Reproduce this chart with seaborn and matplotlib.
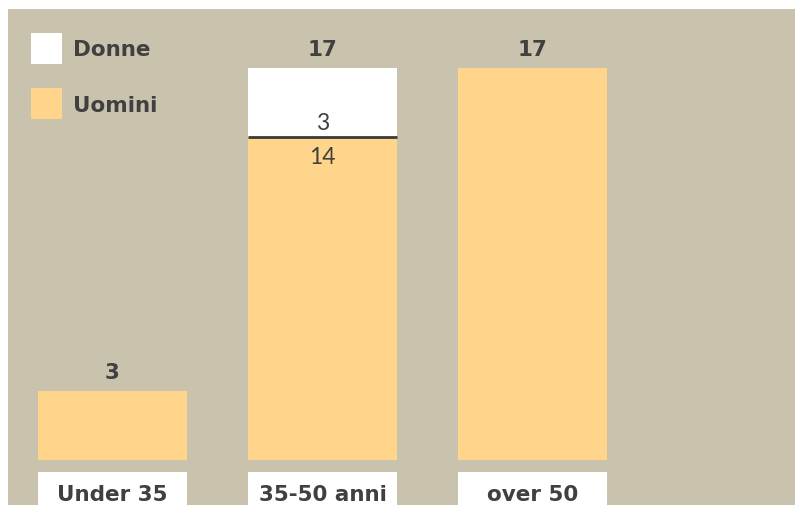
import matplotlib
matplotlib.use("Agg")
import matplotlib.pyplot as plt
from matplotlib.patches import Patch
import seaborn as sns
import pandas as pd

# Data
categories = ["Under 35", "35-50 anni", "over 50"]
uomini = [3, 14, 17]
donne = [0, 3, 0]
totals = [u + d for u, d in zip(uomini, donne)]

BG = "#c9c3ad"
ORANGE = "#fed58b"
WHITE = "#ffffff"
TEXT = "#404040"
BOLD_FONT = ["DejaVu Sans"]
LIGHT_FONT = ["Lato", "DejaVu Sans"]

sns.set_theme(style="white")
plt.rcParams["font.family"] = LIGHT_FONT

df = pd.DataFrame({"cat": categories, "uomini": uomini,
                   "donne": donne, "tot": totals})

fig = plt.figure(figsize=(7.95, 5.06), dpi=100)
fig.patch.set_facecolor("white")
ax = fig.add_axes([8 / 795, 0, 787 / 795, 496 / 506])
ax.set_facecolor(BG)

W = 0.71
# stacked bars: totals in white, men drawn over them
sns.barplot(data=df, x="cat", y="tot", color=WHITE, saturation=1,
            width=W, ax=ax, linewidth=0, zorder=2)
sns.barplot(data=df, x="cat", y="uomini", color=ORANGE, saturation=1,
            width=W, ax=ax, linewidth=0, zorder=3)

# white boxes behind the category names
for i, name in enumerate(categories):
    ax.bar(i, -3, bottom=-0.52, width=W, color=WHITE, linewidth=0, zorder=2)
    ax.text(i, -1.47, name, ha="center", va="center", fontsize=15.5,
            fontweight="bold", family=BOLD_FONT, color=TEXT, zorder=4)

# totals above bars
for i, t in enumerate(totals):
    ax.annotate(str(t), (i, t), xytext=(0, 9), textcoords="offset points",
                ha="center", va="baseline", fontsize=15.5,
                fontweight="bold", family=BOLD_FONT, color=TEXT, zorder=4)

# split line and segment values where both groups are present
for i, (u, d) in enumerate(zip(uomini, donne)):
    if d > 0:
        ax.hlines(u, i - W / 2, i + W / 2, color="#3a3a3a", lw=2.0, zorder=5)
        ax.annotate(str(d), (i, u), xytext=(0, 6), textcoords="offset points",
                    ha="center", va="baseline", fontsize=16.5,
                    color=TEXT, zorder=4)
        ax.annotate(str(u), (i, u), xytext=(0, -6), textcoords="offset points",
                    ha="center", va="top", fontsize=16.5,
                    color=TEXT, zorder=4)

ax.set_xlim(-0.4976, 3.25)
ax.set_ylim(-1.951, 19.558)
ax.set_xticks([])
ax.set_yticks([])
ax.set_xlabel("")
ax.set_ylabel("")
for s in ax.spines.values():
    s.set_visible(False)

handles = [Patch(facecolor=WHITE, edgecolor="none", label="Donne"),
           Patch(facecolor=ORANGE, edgecolor="none", label="Uomini")]
leg = fig.legend(handles=handles, loc="upper left",
                 bbox_to_anchor=(31 / 795, 1 - 34 / 506),
                 bbox_transform=fig.transFigure, frameon=False,
                 borderpad=0, borderaxespad=0,
                 handlelength=1.45, handleheight=1.82, handletextpad=0.5,
                 labelspacing=1.15,
                 prop={"family": BOLD_FONT, "weight": "bold", "size": 15.5})
for t in leg.get_texts():
    t.set_color(TEXT)

fig.savefig("out.png", dpi=100, facecolor=fig.get_facecolor())
